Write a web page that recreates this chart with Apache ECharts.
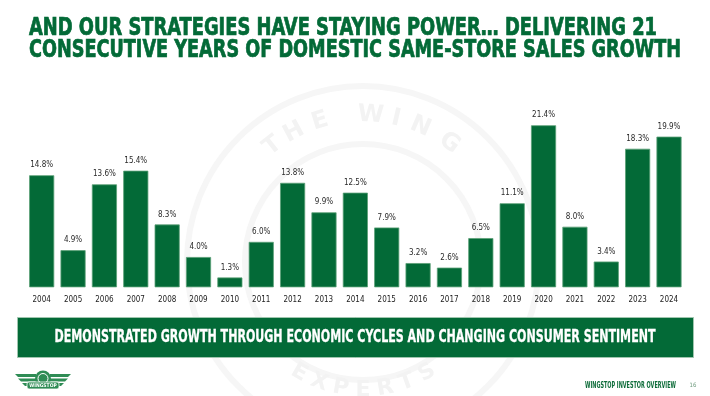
<!DOCTYPE html>
<html>
<head>
<meta charset="utf-8">
<script src="https://cdn.jsdelivr.net/npm/echarts@6/dist/echarts.min.js"></script>
<style>
html,body{margin:0;padding:0;background:#fff;}
#c{width:710px;height:396px;}
</style>
</head>
<body>
<div id="c"></div>
<script>
const years = ['2004','2005','2006','2007','2008','2009','2010','2011','2012','2013','2014','2015','2016','2017','2018','2019','2020','2021','2022','2023','2024'];
const sssGrowth = [14.8, 4.9, 13.6, 15.4, 8.3, 4.0, 1.3, 6.0, 13.8, 9.9, 12.5, 7.9, 3.2, 2.6, 6.5, 11.1, 21.4, 8.0, 3.4, 18.3, 19.9];
const titleLines = ['AND OUR STRATEGIES HAVE STAYING POWER… DELIVERING 21', 'CONSECUTIVE YEARS OF DOMESTIC SAME-STORE SALES GROWTH'];
const bandText = 'DEMONSTRATED GROWTH THROUGH ECONOMIC CYCLES AND CHANGING CONSUMER SENTIMENT';
const footerText = 'WINGSTOP INVESTOR OVERVIEW';
const pageNumber = '16';
const sealTop = ['T','H','E','W','I','N','G'];
const sealBottom = ['E','X','P','E','R','T','S'];

const GREEN = '#036a37';
const NARROW = '"Liberation Sans Narrow","DejaVu Sans Condensed","Roboto Condensed",sans-serif';

const mctx = document.createElement('canvas').getContext('2d');
function fitScale(text, font, target){
  mctx.font = font;
  const w = mctx.measureText(text).width;
  return w > 0 ? target / w : 1;
}
function fitText(text, x, y, size, weight, color, target, align, strokeW){
  const font = weight + ' ' + size + 'px ' + NARROW;
  const s = fitScale(text, font, target);
  const st = { text: text, x: 0, y: 0, font: font, fill: color,
      textAlign: align || 'left', textVerticalAlign: 'middle', align: align || 'left', verticalAlign: 'middle' };
  if (strokeW) { st.stroke = color; st.lineWidth = strokeW; }
  return { type: 'text', x: x, y: y, scaleX: s, scaleY: 1, z: 10, style: st };
}

const graphics = [];
// faint seal watermark
const cx = 363, cy = 262;
[118, 176].forEach(function(r){
  graphics.push({ type: 'circle', z: 0, silent: true, shape: { cx: cx, cy: cy, r: r },
    style: { fill: 'none', stroke: '#f6f6f6', lineWidth: 6 } });
});
const topAngles = [-38, -28, -17, 3, 13, 23, 36];
sealTop.forEach(function(ch, i){
  const a = topAngles[i] * Math.PI / 180, r = 147;
  graphics.push({ type: 'text', z: 1, silent: true,
    x: cx + r * Math.sin(a), y: cy - r * Math.cos(a), rotation: -a,
    style: { text: ch, x: 0, y: 0, font: 'bold 24px "DejaVu Sans",sans-serif', fill: '#f3f3f3',
      textAlign: 'center', textVerticalAlign: 'middle', align: 'center', verticalAlign: 'middle' } });
});
const botAngles = [-30, -20, -10, 0, 10, 20, 30];
sealBottom.forEach(function(ch, i){
  const a = botAngles[i] * Math.PI / 180, r = 128;
  graphics.push({ type: 'text', z: 1, silent: true,
    x: cx + r * Math.sin(a), y: cy + r * Math.cos(a), rotation: a,
    style: { text: ch, x: 0, y: 0, font: 'bold 22px "DejaVu Sans",sans-serif', fill: '#f3f3f3',
      textAlign: 'center', textVerticalAlign: 'middle', align: 'center', verticalAlign: 'middle' } });
});

// title
graphics.push(fitText(titleLines[0], 29, 28.5, 24, 'bold', GREEN, 628, 'left', 0.7));
graphics.push(fitText(titleLines[1], 29, 51, 24, 'bold', GREEN, 652, 'left', 0.7));

// band
graphics.push({ type: 'rect', z: 5, shape: { x: 17.5, y: 317.5, width: 676, height: 40 },
  style: { fill: GREEN, stroke: '#9fc6ae', lineWidth: 1 } });
graphics.push(fitText(bandText, 355, 337.5, 17, 'bold', '#ffffff', 601, 'center', 0.3));

// footer
graphics.push(fitText(footerText, 585, 386, 9, 'bold', '#0c6b38', 91));
graphics.push({ type: 'text', z: 10, x: 693, y: 385,
  style: { text: pageNumber, x: 0, y: 0, font: '6px ' + NARROW, fill: '#6d9a7d',
    textAlign: 'center', textVerticalAlign: 'middle', align: 'center', verticalAlign: 'middle' } });

// simplified logo
const LG = '#2f8c55';
[[15,374,36,374,36,377,18,377],[18,378.5,36,378.5,36,381.5,21,381.5],[22,383,36,383,36,386,25,386]].forEach(function(p){
  graphics.push({ type: 'polygon', z: 10, shape: { points: [[p[0],p[1]],[p[2],p[3]],[p[4],p[5]],[p[6],p[7]]] }, style: { fill: LG } });
  graphics.push({ type: 'polygon', z: 10, shape: { points: [[86-p[0],p[1]],[86-p[2],p[3]],[86-p[4],p[5]],[86-p[6],p[7]]] }, style: { fill: LG } });
});
graphics.push({ type: 'circle', z: 10, shape: { cx: 43, cy: 378.5, r: 8 }, style: { fill: LG } });
graphics.push({ type: 'circle', z: 11, shape: { cx: 43, cy: 378.5, r: 5 }, style: { fill: 'none', stroke: '#fff', lineWidth: 1 } });
graphics.push({ type: 'rect', z: 11, shape: { x: 27, y: 382, width: 32, height: 7, r: 2 }, style: { fill: LG, stroke: '#fff', lineWidth: 0.8 } });
graphics.push({ type: 'text', z: 12, x: 43, y: 385.5,
  style: { text: 'WINGSTOP', x: 0, y: 0, font: 'bold 5px ' + NARROW, fill: '#fff',
    textAlign: 'center', textVerticalAlign: 'middle', align: 'center', verticalAlign: 'middle' } });

const chart = echarts.init(document.getElementById('c'), null, { renderer: 'canvas' });
chart.setOption({
  backgroundColor: '#ffffff',
  animation: false,
  grid: { left: 26, right: 25.3, top: 105.6, bottom: 108.7, containLabel: false },
  xAxis: {
    type: 'category', data: years,
    axisLine: { show: false }, axisTick: { show: false },
    axisLabel: { margin: 9, fontSize: 8, fontFamily: NARROW, color: '#222', interval: 0 }
  },
  yAxis: { type: 'value', min: 0, max: 24, show: false, splitLine: { show: false } },
  series: [{
    type: 'bar', data: sssGrowth, barCategoryGap: '20%',
    itemStyle: { color: GREEN, borderColor: '#5a9f76', borderWidth: 0.8 },
    label: { show: true, position: 'top', distance: 6, fontSize: 8, fontFamily: NARROW, color: '#2a2a2a',
      formatter: function(p){ return p.value.toFixed(1) + '%'; } },
    z: 5
  }],
  graphic: { elements: graphics }
});
</script>
</body>
</html>
